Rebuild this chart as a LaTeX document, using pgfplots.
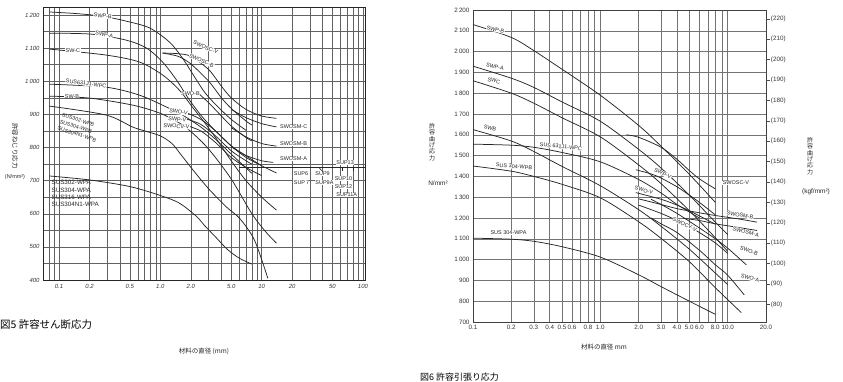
\documentclass[border=0pt]{standalone}
\usepackage{fontspec}
\setmainfont{Liberation Sans}
\newfontfamily\jp{Noto Sans CJK JP}
\usepackage{pgfplots}
\pgfplotsset{compat=1.18}
\tikzset{lab/.style={fill=white, inner sep=0.4bp, font=\fontsize{5.5}{6}\selectfont, text=black!85}}
\pgfplotsset{cv/.style={black!85, line width=0.75bp, smooth, no markers}}
\begin{document}
\begin{tikzpicture}[x=1bp,y=1bp]
\path[use as bounding box] (0bp,0bp) rectangle (843bp,382bp);
% ---------------- Fig 5 ----------------
\begin{axis}[at={(43bp,102bp)}, anchor=south west, scale only axis,
  width=322bp, height=273bp, xmode=log, xmin=0.0694, xmax=104.7, ymin=400, ymax=1224,
  xtick={0.1,0.2,0.5,1,2,5,10,20,50,100},
  xticklabels={0.1,0.2,0.5,1.0,2.0,5.0,10,20,50,100},
  minor xtick={0.08,0.09,0.3,0.4,0.6,0.7,0.8,0.9,3,4,6,7,8,9,30,40,60,70,80,90},
  ytick={400,500,...,1200},
  yticklabels={400,500,600,700,800,900,1\,000,1\,100,1\,200},
  minor ytick={450,550,...,1150},
  grid=both, major grid style={black!62, line width=0.45bp}, minor grid style={black!62, line width=0.45bp},
  major tick length=0pt, minor tick length=0pt,
  axis line style={black!85, line width=0.6bp},
  /pgf/number format/assume math mode=true,
  ticklabel style={font=\fontsize{6}{7}\selectfont\itshape, text=black!80},
  xticklabel style={yshift=-1bp},
  every axis plot/.append style={line width=0.85bp, black!90},
  clip=false]
% long curves
\addplot[cv] coordinates {(0.08,1209)(0.15,1204)(0.27,1196)(0.45,1182)(0.78,1161)(1.23,1118)(1.65,1070)(2.27,1004)(2.73,967)(3.5,930)(5,885)(7,852)};
\addplot[cv] coordinates {(0.08,1145)(0.21,1142)(0.46,1124)(0.73,1100)(1.05,1058)(1.44,1004)(1.94,943)(2.6,892)(3.5,850)(5,805)(7,775)(10,745)(14,723)};
\addplot[cv] coordinates {(0.08,1097)(0.29,1079)(0.62,1058)(1.05,1019)(1.54,973)(2.07,922)(2.7,877)(3.5,830)(5,760)(7,700)(10,650)(14,611)};
\addplot[cv] coordinates {(0.08,991)(0.29,982)(0.62,958)(1.15,922)(1.65,898)(2.5,862)(3.5,825)(5,780)(8,722)};
\addplot[cv] coordinates {(0.08,955)(0.2,949)(0.53,928)(0.98,904)(1.54,874)(2,848)(3,795)(5,705)(8,600)(11,545)(14,511)};
\addplot[cv] coordinates {(0.08,925)(0.29,898)(0.53,862)(0.7,850)(1.0,835)(1.3,812)(1.6,778)(2.1,732)(3,675)(4.5,620)(6.1,585)(8.5,520)(11.5,405)};
\addplot[cv] coordinates {(0.08,714)(0.2,702)(0.5,682)(1.0,655)(1.54,632)(2.27,592)(2.7,566)(3.5,530)(4.6,492)(6,466)(8,448)};
% short curves
\addplot[cv] coordinates {(1.05,1085)(1.5,1083)(2,1075)(3,1035)(4,985)(5,950)(7,915)(10,895)(14,888)};
\addplot[cv] coordinates {(1.05,1085)(1.5,1075)(2,1052)(3,1000)(4,950)(5,918)(7,880)(8,868)};
\addplot[cv] coordinates {(5,915)(7,890)(10,872)(14,862)};
\addplot[cv] coordinates {(2.4,962)(3,935)(4,895)(5,865)(7,830)(8,820)};
\addplot[cv] coordinates {(5,860)(7,832)(10,812)(14,804)};
\addplot[cv] coordinates {(5,802)(7,776)(10,760)(13,755)};
\addplot[cv] coordinates {(1.8,905)(2.5,885)(3.5,850)(5,805)(7,770)(10,745)};
\addplot[cv] coordinates {(1.8,886)(2.5,870)(3.5,835)(5,790)(7,760)(8,750)};
\addplot[cv] coordinates {(1.75,868)(2.5,850)(3.5,815)(5,770)(7,740)(10,715)};
\addplot[cv, sharp plot] coordinates {(6,739)(104.7,739)};
\addplot[cv, sharp plot, line width=0.6bp] coordinates {(37,739)(39,730)};
\addplot[cv, sharp plot, line width=0.6bp] coordinates {(63,739)(63,728)};
\addplot[cv, sharp plot, line width=0.6bp] coordinates {(80,739)(80,728)};
% labels
\node[lab, rotate=-6] at (axis cs:0.27,1197) {SWP-B};
\node[lab, rotate=-12] at (axis cs:0.28,1140) {SWP-A};
\node[lab] at (axis cs:0.137,1092) {SW-C};
\node[lab, rotate=-8] at (axis cs:0.185,993) {SUS631J1-WPC};
\node[lab] at (axis cs:0.134,955) {SW-B};
\node[rotate=-18, align=left, inner sep=0.4bp, text=black!85, font=\fontsize{5.3}{7}\selectfont] at (axis cs:0.158,860) {SUS302-WPB\\SUS304-WPB\\SUS304N1-WPB};
\node[anchor=north west, align=left, inner sep=0.5bp, font=\fontsize{6.3}{7.4}\selectfont, text=black!85] at (axis cs:0.083,703) {SUS302-WPA\\SUS304-WPA\\SUS316-WPA\\SUS304N1-WPA};
\node[lab, rotate=-24] at (axis cs:2.8,1102) {SWOSC-V};
\node[lab, rotate=-24] at (axis cs:2.55,1062) {SWOSC-B};
\node[lab] at (axis cs:1.98,964) {SWO-B};
\node[lab, rotate=-10] at (axis cs:1.51,907) {SWO-V};
\node[lab, rotate=-6] at (axis cs:1.47,885) {SWP-V};
\node[lab, rotate=-4] at (axis cs:1.44,864) {SWOCV-V};
\node[lab, anchor=west] at (axis cs:15,862) {SWOSM-C};
\node[lab, anchor=west] at (axis cs:15,813) {SWOSM-B};
\node[lab, anchor=west] at (axis cs:15,765) {SWOSM-A};
\node[lab, anchor=west] at (axis cs:20.5,720) {SUP6};
\node[lab, anchor=west] at (axis cs:20.5,694) {SUP\,7};
\node[lab, anchor=west] at (axis cs:33.5,720) {SUP9};
\node[lab, anchor=west] at (axis cs:33.5,694) {SUP9A};
\node[lab, anchor=west] at (axis cs:52,707) {SUP10};
\node[lab, anchor=west] at (axis cs:52,681) {SUP12};
\node[lab, anchor=west] at (axis cs:54,755) {SUP13};
\node[lab, anchor=west] at (axis cs:54,657) {SUP11A};
\end{axis}
% ---------------- Fig 6 ----------------
\begin{axis}[at={(473bp,60bp)}, anchor=south west, scale only axis,
  width=293bp, height=312bp, xmode=log, xmin=0.1, xmax=20, ymin=700, ymax=2200,
  xtick={0.1,0.2,0.3,0.4,0.5,0.6,0.8,1,2,3,4,5,6,8,10,20},
  xticklabels={0.1,0.2,0.3,0.4,0.5,0.6,0.8,1.0,2.0,3.0,4.0,5.0,6.0,8.0,10.0,20.0},
  minor xtick={0.7,0.9,7,9},
  ytick={700,800,...,2200},
  yticklabels={700,800,900,1\,000,1\,100,1\,200,1\,300,1\,400,1\,500,1\,600,1\,700,1\,800,1\,900,2\,000,2\,100,2\,200},
  grid=both, major grid style={black!55, line width=0.5bp}, minor grid style={black!55, line width=0.5bp},
  major tick length=0pt, minor tick length=0pt,
  axis line style={black!75, line width=0.6bp},
  /pgf/number format/assume math mode=true,
  ticklabel style={font=\fontsize{6.3}{7}\selectfont, text=black!80},
  clip=false]
\addplot[cv] coordinates {(0.1,2130)(0.2,2068)(0.3,2005)(0.5,1915)(1,1790)(2,1645)(3,1545)(5,1410)(8,1275)};
\addplot[cv] coordinates {(0.1,1930)(0.2,1872)(0.3,1828)(0.5,1758)(1,1665)(2,1530)(3,1440)(5,1310)(8,1180)(10,1120)};
\addplot[cv] coordinates {(0.1,1860)(0.2,1800)(0.3,1752)(0.5,1682)(1,1590)(2,1455)(3,1365)(5,1235)(8,1105)(10,1040)};
\addplot[cv] coordinates {(0.1,1555)(0.2,1550)(0.3,1540)(0.5,1515)(1,1470)(2,1385)(3,1320)(4,1265)(6,1200)};
\addplot[cv] coordinates {(0.1,1625)(0.2,1570)(0.3,1520)(0.5,1448)(1,1355)(2,1240)(3,1160)(5,1050)(8,935)(10,880)};
\addplot[cv] coordinates {(0.1,1450)(0.2,1425)(0.3,1400)(0.5,1362)(1,1297)(2,1182)(3,1102)(5,990)(8,865)(12.8,745)};
\addplot[cv] coordinates {(0.1,1103)(0.2,1098)(0.3,1088)(0.5,1062)(1,1012)(2,927)(3,870)(5,800)(8,737)};
\addplot[cv] coordinates {(1.6,1600)(2,1588)(3,1540)(4,1482)(5,1428)(6,1388)(8,1340)};
\addplot[cv] coordinates {(1.9,1432)(2.5,1412)(3,1392)(4,1350)(5,1310)(6,1275)(8,1215)};
\addplot[cv] coordinates {(1.9,1322)(3,1290)(4,1262)(5,1235)(6,1210)(8,1170)};
\addplot[cv] coordinates {(2,1262)(3,1222)(4,1188)(5,1158)(6,1130)(8,1080)(10,1030)};
\addplot[cv] coordinates {(2,1292)(3,1265)(4,1245)(6,1225)(8,1212)(12,1196)(17,1180)};
\addplot[cv] coordinates {(4.5,1198)(6,1188)(8,1172)(12,1155)(17,1140)};
\addplot[cv] coordinates {(2.5,1290)(3,1265)(4,1222)(6,1152)(8,1100)(10,1055)(14,975)};
\addplot[cv] coordinates {(2.5,1200)(3,1172)(4,1130)(6,1045)(8,975)(10,925)(13.5,830)};
% labels
\node[lab, rotate=-14] at (axis cs:0.15,2106) {SWP-B};
\node[lab, rotate=-14] at (axis cs:0.149,1928) {SWP-A};
\node[lab, rotate=-12] at (axis cs:0.146,1860) {SWC};
\node[lab, rotate=-12] at (axis cs:0.136,1634) {SWB};
\node[lab, rotate=-6] at (axis cs:0.49,1543) {SUS 631J1-WPC};
\node[lab, rotate=-5] at (axis cs:0.21,1448) {SUS 304-WPB};
\node[lab] at (axis cs:0.19,1131) {SUS 304-WPA};
\node[lab, rotate=-25] at (axis cs:3.1,1414) {SWP-V};
\node[lab, rotate=-14] at (axis cs:2.2,1333) {SWO-V};
\node[lab, rotate=-25] at (axis cs:4.6,1169) {SWOCV-V};
\node[lab] at (axis cs:11.6,1368) {SWOSC-V};
\node[lab, rotate=-10] at (axis cs:12.5,1214) {SWOSM-B};
\node[lab, rotate=-15] at (axis cs:13.9,1133) {SWOSM-A};
\node[lab, rotate=-20] at (axis cs:14.7,1041) {SWO-B};
\node[lab, rotate=-15] at (axis cs:15,911) {SWO-A};
% kgf/mm2 scale on the right border
\pgfplotsinvokeforeach{80,90,100,110,120,130,140,150,160,170,180,190,200,210,220}{
  \draw[black!70, line width=0.5bp] (axis cs:20,{#1*9.80665}) -- ++(3.5bp,0bp)
    node[right, inner sep=1.2bp, font=\fontsize{6.3}{7}\selectfont, text=black!80] {(#1)};
}
\end{axis}
% axis titles
\node[rotate=-90, font=\jp\fontsize{6.5}{7}\selectfont, text=black!85] at (15bp,236bp) {許容ねじり応力};
\node[font=\fontsize{5.5}{6}\selectfont, text=black!85] at (15bp,205bp) {(N/mm²)};
\node[font=\jp\fontsize{6.5}{7}\selectfont, text=black!85] at (204bp,31bp) {材料の直径 (mm)};
\node[align=center, font=\jp\fontsize{6}{6.4}\selectfont, text=black!85] at (432bp,240bp) {許\\容\\曲\\げ\\応\\力};
\node[font=\fontsize{6.5}{7}\selectfont, text=black!85] at (438bp,199bp) {N/mm²};
\node[align=center, font=\jp\fontsize{6}{6.4}\selectfont, text=black!85] at (810bp,226bp) {許\\容\\曲\\げ\\応\\力};
\node[font=\fontsize{6.5}{7}\selectfont, text=black!85] at (816bp,190bp) {(kgf/mm²)};
\node[font=\jp\fontsize{6.5}{7}\selectfont, text=black!85] at (604bp,35bp) {材料の直径 mm};
\node[anchor=west, inner sep=0pt, font=\jp\fontsize{10.5}{12}\selectfont] at (0bp,57bp) {図5 許容せん断応力};
\node[anchor=west, inner sep=0pt, font=\jp\fontsize{9}{10}\selectfont] at (420bp,5bp) {図6 許容引張り応力};
\end{tikzpicture}
\end{document}
